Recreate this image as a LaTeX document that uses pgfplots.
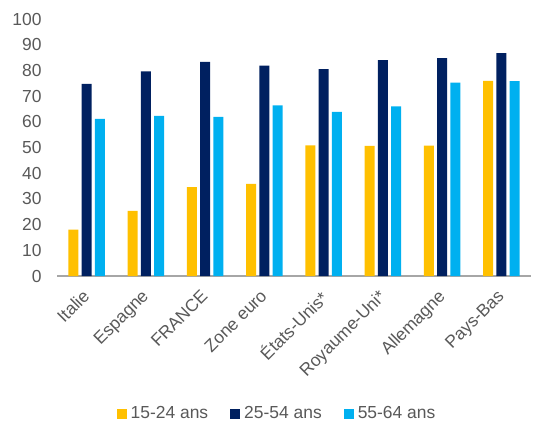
\documentclass[border=0pt]{standalone}
\usepackage{fontspec}
\setmainfont{Liberation Sans}
\usepackage{pgfplots}
\pgfplotsset{compat=1.18}
\definecolor{cY}{HTML}{FFC000}
\definecolor{cN}{HTML}{002060}
\definecolor{cC}{HTML}{00B0F0}
\definecolor{txt}{HTML}{595959}
\definecolor{axl}{HTML}{A6A6A6}
\begin{document}
\begin{tikzpicture}
\begin{axis}[
  scale only axis,
  width=474bp, height=257bp,
  ymin=0, ymax=100,
  xmin=-0.5, xmax=7.5,
  ybar=3.3bp, bar width=10bp,
  ytick={0,10,...,100},
  xtick={0,...,7},
  xticklabels={Italie,Espagne,FRANCE,Zone euro,États-Unis*,Royaume-Uni*,Allemagne,Pays-Bas},
  /pgf/number format/assume math mode=true,
  tick label style={font=\fontsize{17.5}{19}\selectfont, text=txt},
  xticklabel style={rotate=45, anchor=north east, inner sep=1bp, xshift=-11.3bp, yshift=-4.2bp},
  yticklabel style={xshift=-12bp},
  major tick length=0pt,
  axis x line*=bottom,
  axis y line*=left,
  y axis line style={draw=none},
  x axis line style={draw=axl, line width=1.2bp, -},
  legend style={at={(0.5,-0.535)}, xshift=-16bp, anchor=center, draw=none, legend columns=-1,
    font=\fontsize{17.5}{19}\selectfont, text=txt,
    /tikz/every even column/.append style={column sep=18bp}},
  legend image code/.code={\fill[#1] (0bp,-5bp) rectangle (10bp,5bp);},
  legend style={nodes={inner xsep=4bp}},
  clip=false,
]
\addplot[fill=cY, draw=none] coordinates {(0,18) (1,25.3) (2,34.6) (3,35.8) (4,50.8) (5,50.6) (6,50.7) (7,75.9)};
\addplot[fill=cN, draw=none] coordinates {(0,74.8) (1,79.6) (2,83.3) (3,81.9) (4,80.5) (5,84.0) (6,84.8) (7,86.7)};
\addplot[fill=cC, draw=none] coordinates {(0,61.1) (1,62.3) (2,61.9) (3,66.4) (4,63.9) (5,66.0) (6,75.2) (7,75.8)};
\legend{15-24 ans,25-54 ans,55-64 ans}
\coordinate (bl) at (rel axis cs:0,0);
\coordinate (tr) at (rel axis cs:1,1);
\end{axis}
\pgfresetboundingbox
\path[use as bounding box] ([xshift=-57bp,yshift=-147bp]bl) rectangle ([xshift=3bp,yshift=19bp]tr);
\end{tikzpicture}
\end{document}
